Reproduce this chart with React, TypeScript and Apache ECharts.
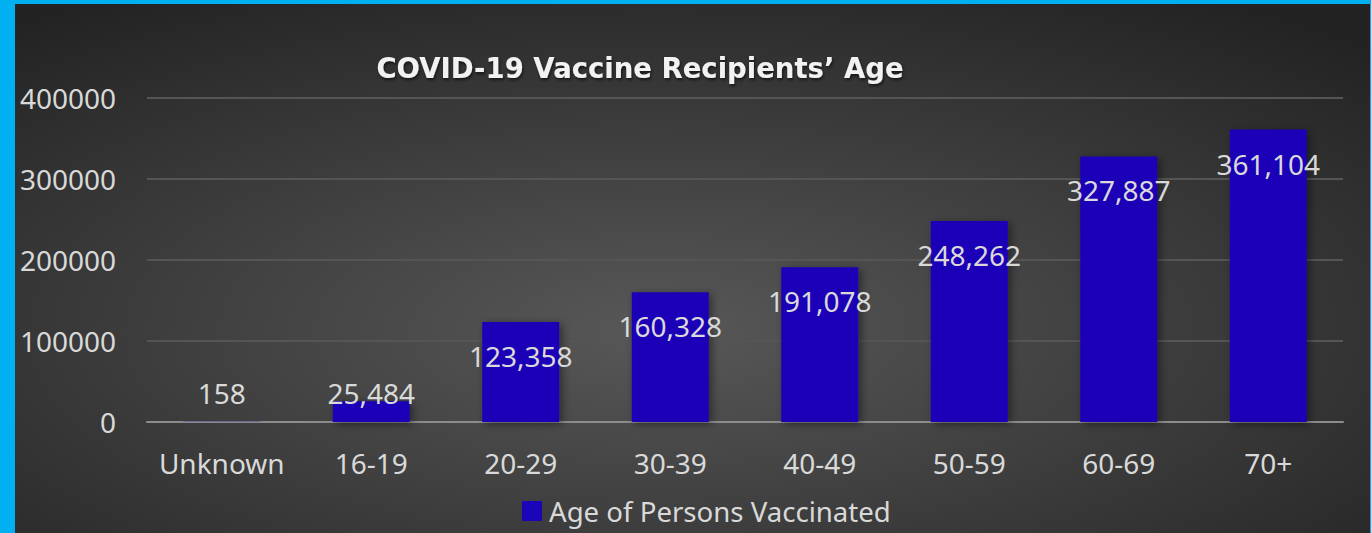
import React, { useEffect, useRef } from "react";
import * as echarts from "echarts";

const categories = ["Unknown", "16-19", "20-29", "30-39", "40-49", "50-59", "60-69", "70+"];
const seriesName = "Age of Persons Vaccinated";
const values = [158, 25484, 123358, 160328, 191078, 248262, 327887, 361104];
const yTicks = { min: 0, max: 400000, interval: 100000 };
const titleText = "COVID-19 Vaccine Recipients\u2019 Age";

const W = 1371;
const H = 533;
const FONT = "'Noto Sans', sans-serif";

export default function App() {
  const ref = useRef<HTMLDivElement>(null);
  useEffect(() => {
    document.body.style.margin = "0";
    if (!ref.current) return;
    const chart = echarts.init(ref.current, null, { renderer: "svg" });
    const fmt = (v: number) => v.toLocaleString("en-US");
    const data = values.map((v) => {
      const small = v < 78000;
      return {
        value: v,
        label: small
          ? { position: "insideBottom" as const, distance: 15 }
          : { position: "insideTop" as const, distance: 20 },
      };
    });
    chart.setOption({
      animation: false,
      graphic: [
        {
          type: "rect",
          z: -10,
          silent: true,
          shape: { x: 0, y: 0, width: W, height: H },
          style: {
            fill: {
              type: "radial",
              x: 0.48,
              y: 0.62,
              r: 0.75,
              colorStops: [
                { offset: 0, color: "#585858" },
                { offset: 1, color: "#222222" },
              ],
            },
          },
        },
        { type: "rect", z: 100, silent: true, shape: { x: 0, y: 0, width: 15, height: H }, style: { fill: "#00b0f0" } },
        { type: "rect", z: 100, silent: true, shape: { x: 0, y: 0, width: W, height: 4 }, style: { fill: "#00b0f0" } },
        { type: "rect", z: 100, silent: true, shape: { x: W - 1, y: 0, width: 1, height: H }, style: { fill: "#00b0f0" } },
      ],
      title: {
        text: titleText,
        left: 635,
        textAlign: "center",
        top: 49,
        textStyle: {
          fontFamily: "'DejaVu Sans', sans-serif",
          fontSize: 27.5,
          fontWeight: "bold",
          color: "#f2f2f2",
          textShadowColor: "rgba(0,0,0,0.6)",
          textShadowBlur: 3,
          textShadowOffsetX: 1,
          textShadowOffsetY: 2,
        },
      },
      legend: {
        left: 522,
        top: 497,
        padding: 0,
        itemWidth: 20,
        itemHeight: 20,
        icon: "rect",
        data: [seriesName],
        textStyle: { fontFamily: FONT, fontSize: 27.6, color: "#d9d9d9", padding: [0, 0, 0, 2] },
      },
      grid: { left: 147, right: 28, top: 98, bottom: 111, containLabel: false },
      xAxis: {
        type: "category",
        data: categories,
        axisLine: { show: true, lineStyle: { color: "#8c8c8c", width: 2 } },
        axisTick: { show: false },
        axisLabel: { interval: 0, fontFamily: FONT, fontSize: 28, color: "#d9d9d9", margin: 27 },
      },
      yAxis: {
        type: "value",
        min: yTicks.min,
        max: yTicks.max,
        interval: yTicks.interval,
        axisLine: { show: false },
        axisTick: { show: false },
        axisLabel: {
          fontFamily: FONT,
          fontSize: 28,
          color: "#d9d9d9",
          margin: 31,
          formatter: (v: number) => String(v),
        },
        splitLine: { lineStyle: { color: "#555555", width: 2 } },
      },
      series: [
        {
          name: seriesName,
          type: "bar",
          data,
          barWidth: 77,
          itemStyle: {
            color: "#1a06b8",
            shadowColor: "rgba(0,0,0,0.45)",
            shadowBlur: 8,
            shadowOffsetX: 3,
            shadowOffsetY: 2,
          },
          label: {
            show: true,
            fontFamily: FONT,
            fontSize: 28,
            color: "#d9d9d9",
            formatter: (p: any) => fmt(p.value),
          },
        },
      ],
    });
    return () => chart.dispose();
  }, []);
  return <div ref={ref} style={{ width: W, height: H }} />;
}
